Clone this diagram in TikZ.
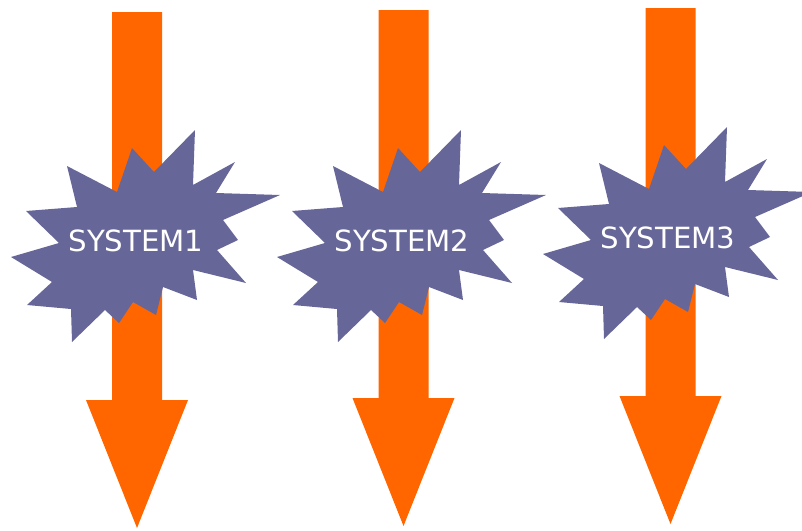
\documentclass[tikz,border=0pt]{standalone}
\usepackage{fontspec}
\setmainfont{DejaVu Sans}
\definecolor{arroworange}{HTML}{FF6600}
\definecolor{burstblue}{HTML}{666699}

\begin{document}
\begin{tikzpicture}[x=0.5pt,y=-0.5pt,
    shaft/.style={fill=arroworange},
    burst/.style={fill=burstblue},
    sysname/.style={text=white,inner sep=0pt,font=\fontsize{14.6}{17}\selectfont}]
  \useasboundingbox (0,0) rectangle (802,530);
  \foreach \n/\ax/\top/\bx/\by in {1/137/12/136/241, 2/403.5/10/402/241, 3/670.5/8/668/238} {
    % down arrow: shaft 50 wide, head 102 wide and 128 long
    \fill[shaft] (\ax-25,\top) -- (\ax+25,\top) -- (\ax+25,\top+388) -- (\ax+51,\top+388)
      -- (\ax,\top+516) -- (\ax-51,\top+388) -- (\ax-25,\top+388) -- cycle;
    % explosion on top of the shaft
    \fill[burst,shift={(\bx,\by)}] (59,-111) -- (18,-69) -- (-4,-93) -- (-19,-49) -- (-69,-75)
      -- (-59,-34) -- (-110,-30) -- (-77,2) -- (-125,16) -- (-84,41) -- (-109,64) -- (-65,68)
      -- (-64,101) -- (-31,69) -- (-17,82) -- (-3,61) -- (20,74) -- (27,46) -- (61,59)
      -- (57,29) -- (110,42) -- (81,9) -- (102,-1) -- (87,-21) -- (144,-46) -- (80,-48)
      -- (99,-79) -- (57,-56) -- cycle;
    \node[sysname] (sys\n) at (\bx,\by) {SYSTEM\n};
  }
\end{tikzpicture}
\end{document}
